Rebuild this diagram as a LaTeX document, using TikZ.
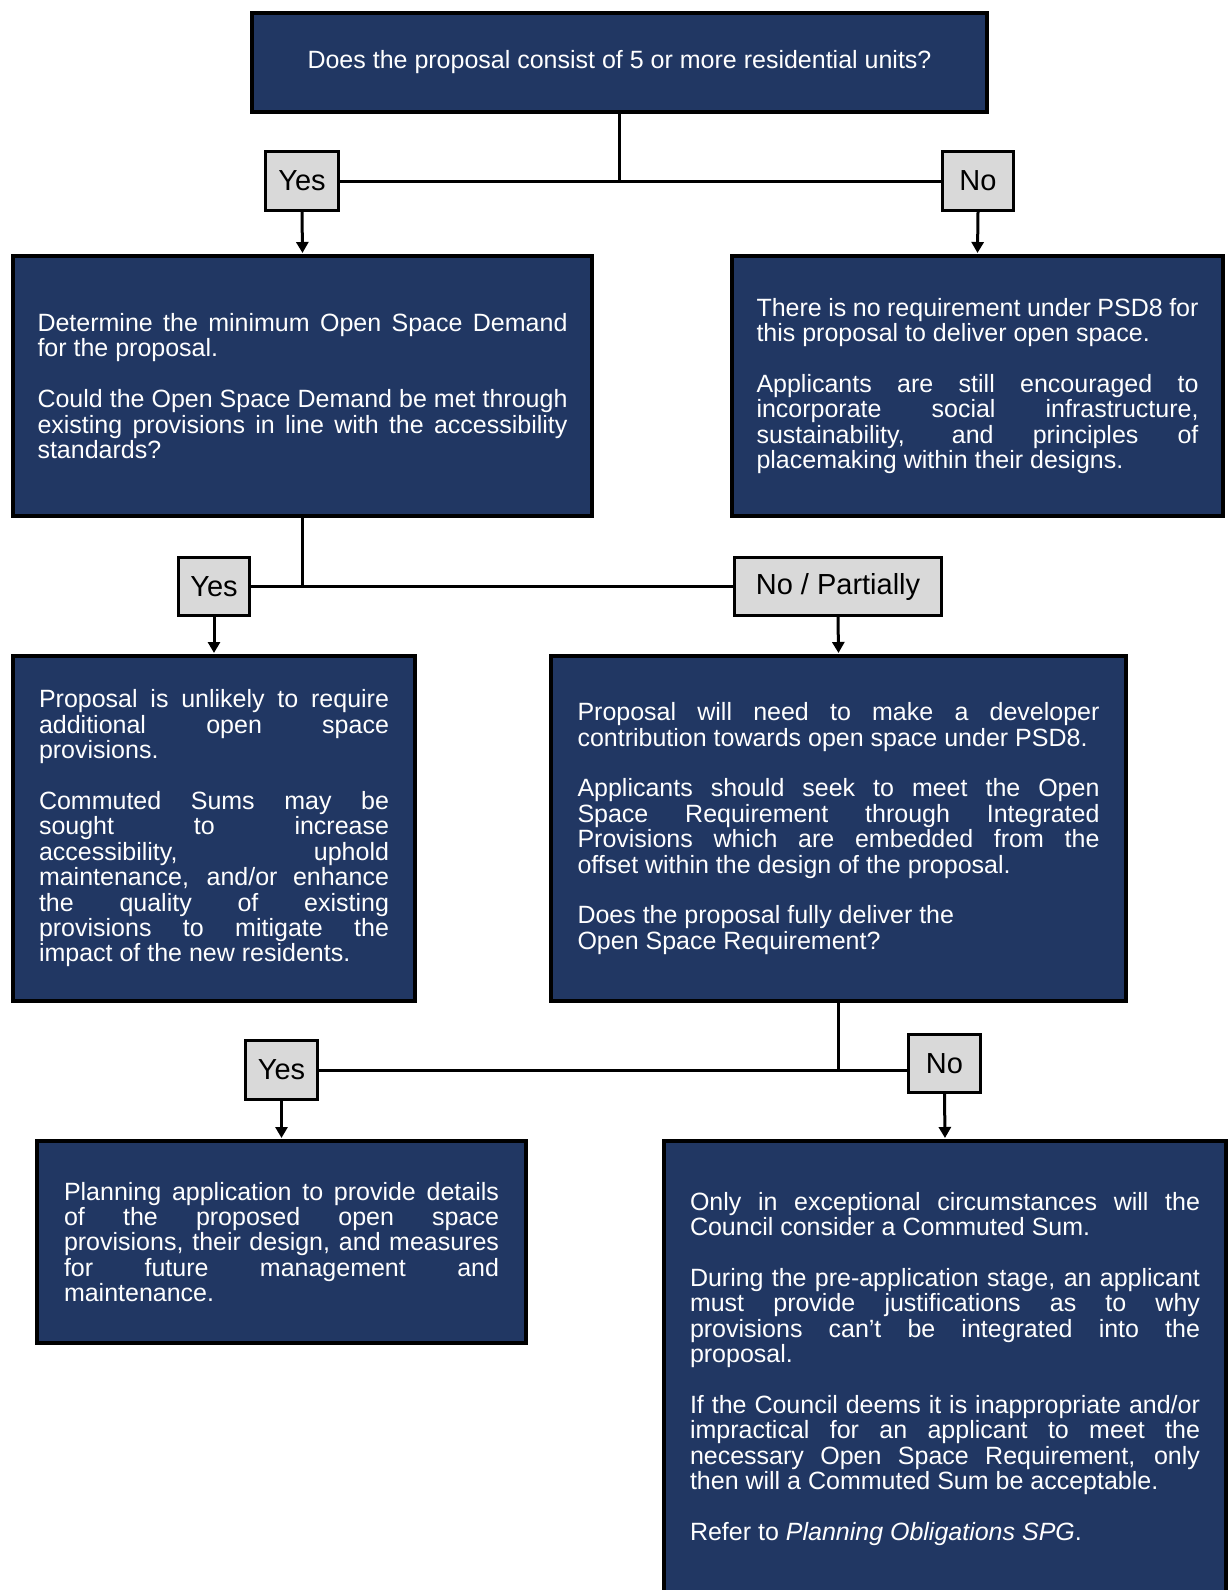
\documentclass[tikz,border=0pt]{standalone}
\usepackage{fontspec}
\setmainfont{Liberation Sans}
\usetikzlibrary{arrows.meta}
\definecolor{navy}{HTML}{213763}
\definecolor{lblgray}{HTML}{D9D9D9}
\tolerance=10000
\hbadness=10000
\newcommand{\pgap}{\par\vspace{25.4pt}}
\tikzset{
  qbox/.style={draw=black, line width=4pt, fill=navy, text=white, inner sep=0pt,
    align=justify, font=\fontsize{25}{25.4}\selectfont},
  lbl/.style={draw=black, line width=3pt, fill=lblgray, text=black, inner sep=0pt,
    font=\fontsize{29}{30}\selectfont},
  conn/.style={draw=black, line width=3pt},
  arr/.style={conn, -{Triangle[length=11pt,width=12pt]}, shorten >=1pt},
}
\begin{document}
\begin{tikzpicture}[x=1pt,y=-1pt]
\useasboundingbox (0,0) rectangle (1227,1590);
\fill[white] (0,0) rectangle (1227,1590);

% main question
\node[qbox, align=center, minimum width=735pt, minimum height=99pt] (top) at (619.5,62.5)
  {Does the proposal consist of 5 or more residential units?};

% first labels
\node[lbl, minimum width=73pt, minimum height=59pt] (yes1) at (302,181) {Yes};
\node[lbl, minimum width=71pt, minimum height=59pt] (no1) at (978,181) {No};

% second row
\node[qbox, minimum width=579pt, minimum height=260pt, text width=530pt] (det) at (302.5,386)
  {Determine the minimum Open Space Demand\linebreak for the proposal.\pgap
   Could the Open Space Demand be met through\linebreak existing provisions in line with the accessibility\linebreak standards?};
\node[qbox, minimum width=491pt, minimum height=260pt, text width=442pt] (nreq) at (977.5,386)
  {There is no requirement under PSD8 for\linebreak this proposal to deliver open space.\pgap
   Applicants are still encouraged to\linebreak incorporate social infrastructure,\linebreak sustainability, and principles of\linebreak placemaking within their designs.};

% second labels
\node[lbl, minimum width=71pt, minimum height=58pt] (yes2) at (214,586.5) {Yes};
\node[lbl, minimum width=207pt, minimum height=58pt] (np) at (838,586.5) {No / Partially};

% third row
\node[qbox, minimum width=402pt, minimum height=345pt, text width=350pt] (unl) at (214,828.5)
  {Proposal is unlikely to require\linebreak additional open space\linebreak provisions.\pgap
   Commuted Sums may be\linebreak sought to increase\linebreak accessibility, uphold\linebreak maintenance, and/or enhance\linebreak the quality of existing\linebreak provisions to mitigate the\linebreak impact of the new residents.};
\node[qbox, minimum width=575pt, minimum height=345pt, text width=522pt] (contrib) at (838.5,828.5)
  {Proposal will need to make a developer\linebreak contribution towards open space under PSD8.\pgap
   Applicants should seek to meet the Open\linebreak Space Requirement through Integrated\linebreak Provisions which are embedded from the\linebreak offset within the design of the proposal.\pgap
   Does the proposal fully deliver the\newline Open Space Requirement?};

% third labels
\node[lbl, minimum width=72pt, minimum height=59pt] (yes3) at (281.5,1070) {Yes};
\node[lbl, minimum width=72pt, minimum height=58pt] (no3) at (944.5,1063.5) {No};

% fourth row
\node[qbox, minimum width=489pt, minimum height=202pt, text width=435pt] (plan) at (281.5,1242)
  {Planning application to provide details\linebreak of the proposed open space\linebreak provisions, their design, and measures\linebreak for future management and\linebreak maintenance.};
\node[qbox, minimum width=562pt, minimum height=456pt, text width=510pt] (only) at (945,1369)
  {Only in exceptional circumstances will the\linebreak Council consider a Commuted Sum.\pgap
   During the pre-application stage, an applicant\linebreak must provide justifications as to why\linebreak provisions can’t be integrated into the\linebreak proposal.\pgap
   If the Council deems it is inappropriate and/or\linebreak impractical for an applicant to meet the\linebreak necessary Open Space Requirement, only\linebreak then will a Commuted Sum be acceptable.\pgap
   Refer to \textit{Planning Obligations SPG}.};

% connectors
\draw[conn] (top.south) -- (top.south |- yes1.east);
\draw[conn] (yes1.east) -- (no1.west);
\draw[arr] (yes1.south) -- (det.north);
\draw[arr] (no1.south) -- (nreq.north);

\draw[conn] (det.south) -- (det.south |- yes2.east);
\draw[conn] (yes2.east) -- (np.west);
\draw[arr] (yes2.south) -- (unl.north);
\draw[arr] (np.south) -- (contrib.north);

\draw[conn] (contrib.south) -- (contrib.south |- yes3.east);
\draw[conn] (yes3.east) -- (yes3.east -| no3.west);
\draw[arr] (yes3.south) -- (plan.north);
\draw[arr] (no3.south) -- (only.north);
\end{tikzpicture}
\end{document}
